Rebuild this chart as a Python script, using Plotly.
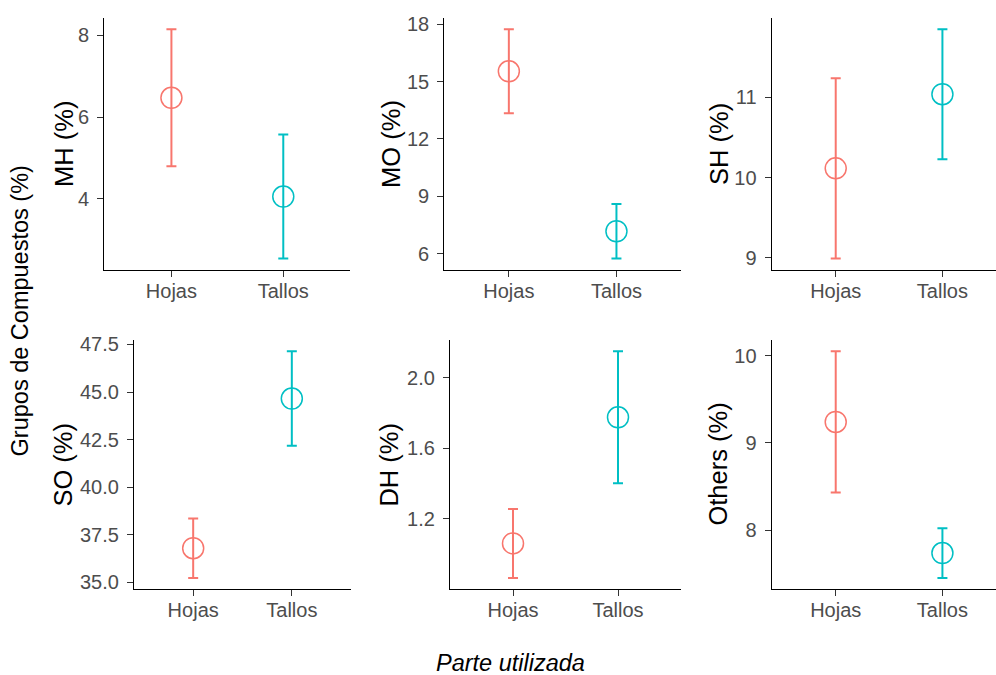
import plotly.graph_objects as go

# Parts of the plant compared in every panel
partes = ["Hojas", "Tallos"]
colores = ["#F8766D", "#00BFC4"]

# Compound groups: mean and standard deviation for Hojas / Tallos
grupos = ["MH", "MO", "SH", "SO", "DH", "Others"]
mh_media = [6.47, 4.05]
mh_sd = [1.68, 1.52]
mo_media = [15.54, 7.17]
mo_sd = [2.20, 1.43]
sh_media = [10.115, 11.04]
sh_sd = [1.125, 0.81]
so_media = [36.80, 44.66]
so_sd = [1.56, 2.48]
dh_media = [1.06, 1.776]
dh_sd = [0.196, 0.375]
ot_media = [9.24, 7.736]
ot_sd = [0.81, 0.285]

medias = [mh_media, mo_media, sh_media, so_media, dh_media, ot_media]
sds = [mh_sd, mo_sd, sh_sd, so_sd, dh_sd, ot_sd]

# Tick values per panel
ticks = [
    [4, 6, 8],
    [6, 9, 12, 15, 18],
    [9, 10, 11],
    [35.0, 37.5, 40.0, 42.5, 45.0, 47.5],
    [1.2, 1.6, 2.0],
    [8, 9, 10],
]
tick_fmt = ["d", "d", "d", ".1f", ".1f", "d"]

W, H = 996, 675

# Panel boxes in pixels: (left, right, top, bottom, visible x-span in category units)
SPAN_R = (996 - 771.7) / 106.7
paneles = [
    (104.3, 350.4, 12, 268, 2.2),
    (444.3, 681.0, 12, 268, 2.2),
    (771.7, 996.0, 12, 268, SPAN_R),
    (134.0, 351.0, 339, 592, 2.2),
    (450.0, 681.0, 339, 592, 2.2),
    (771.7, 996.0, 339, 592, SPAN_R),
]
# Centre of each panel's y title (pixels, x)
titulo_x = [64, 391, 719, 63, 389, 718]

FONT = "Liberation Sans, Arial, sans-serif"

fig = go.Figure()
layout = {}
annotations = []

for i, (g, m, s) in enumerate(zip(grupos, medias, sds)):
    n = i + 1
    xa = "x" if n == 1 else f"x{n}"
    ya = "y" if n == 1 else f"y{n}"
    for j, parte in enumerate(partes):
        fig.add_trace(go.Scatter(
            x=[parte], y=[m[j]],
            xaxis=xa, yaxis=ya,
            mode="markers",
            marker=dict(symbol="circle-open", size=21, color=colores[j],
                        line=dict(width=1.5, color=colores[j])),
            error_y=dict(type="data", array=[s[j]], symmetric=True,
                         color=colores[j], thickness=2, width=5),
            showlegend=False,
        ))

    lo = min(mv - sv for mv, sv in zip(m, s))
    hi = max(mv + sv for mv, sv in zip(m, s))
    pad = 0.05 * (hi - lo)

    left, right, top, bottom, span = paneles[i]
    common = dict(
        showline=True, linecolor="black", linewidth=1.3,
        ticks="outside", ticklen=6, tickwidth=1.3, tickcolor="#333333",
        tickfont=dict(family=FONT, size=20, color="#4D4D4D"),
        showgrid=False, zeroline=False, fixedrange=True,
    )
    layout["xaxis" if n == 1 else f"xaxis{n}"] = dict(
        common,
        anchor=ya,
        domain=[left / W, right / W],
        type="category",
        categoryorder="array", categoryarray=partes,
        range=[-0.6, -0.6 + span],
        ticklabelstandoff=-3,
    )
    layout["yaxis" if n == 1 else f"yaxis{n}"] = dict(
        common,
        anchor=xa,
        domain=[1 - bottom / H, 1 - top / H],
        range=[lo - pad, hi + pad],
        tickvals=ticks[i],
        tickformat=tick_fmt[i],
        ticklabelstandoff=4,
    )
    annotations.append(dict(
        text=f"{g} (%)", textangle=-90,
        x=titulo_x[i] / W, y=1 - (top + bottom) / 2 / H,
        xref="paper", yref="paper", xanchor="center", yanchor="middle",
        showarrow=False, font=dict(family=FONT, size=25.5, color="black"),
    ))

annotations.append(dict(
    text="Grupos de Compuestos (%)", textangle=-90,
    x=20 / W, y=1 - 310 / H, xref="paper", yref="paper",
    xanchor="center", yanchor="middle", showarrow=False,
    font=dict(family=FONT, size=23.5, color="black"),
))
annotations.append(dict(
    text="<i>Parte utilizada</i>",
    x=510 / W, y=1 - 667 / H, xref="paper", yref="paper",
    xanchor="center", yanchor="middle", showarrow=False,
    font=dict(family=FONT, size=23.5, color="black"),
))

fig.update_layout(
    width=W, height=H,
    margin=dict(l=0, r=0, t=0, b=0),
    paper_bgcolor="white", plot_bgcolor="white",
    annotations=annotations,
    **layout,
)

fig.write_html("out.html")
